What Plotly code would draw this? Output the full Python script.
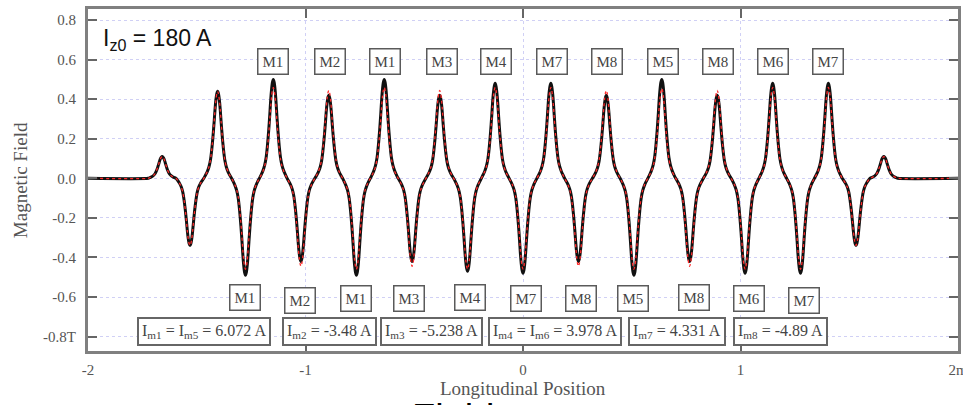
import plotly.graph_objects as go

# ---------------- data ----------------
# longitudinal positions of the field extrema (poles)
POLE_X = [-1.659, -1.531, -1.404, -1.276, -1.148, -1.021, -0.893, -0.766, -0.638,
          -0.510, -0.383, -0.255, -0.128, 0.000, 0.128, 0.255, 0.383, 0.510,
          0.638, 0.766, 0.893, 1.021, 1.148, 1.276, 1.404, 1.531, 1.659]
# peak field of the black (simulated) curve
FIELD_BLACK = [0.11, -0.34, 0.44, -0.49, 0.50, -0.42, 0.42, -0.49, 0.50,
               -0.42, 0.42, -0.47, 0.48, -0.48, 0.48, -0.42, 0.42, -0.49,
               0.50, -0.42, 0.42, -0.48, 0.48, -0.48, 0.48, -0.34, 0.11]
# peak field of the red (corrected) curve
FIELD_RED = [0.11, -0.34, 0.44, -0.46, 0.46, -0.445, 0.445, -0.46, 0.46,
             -0.445, 0.445, -0.46, 0.46, -0.46, 0.46, -0.445, 0.445, -0.46,
             0.455, -0.445, 0.445, -0.46, 0.46, -0.46, 0.46, -0.34, 0.11]
# shape of one pole: distance from the peak and fraction of the peak
PROFILE_DX = [0.004, 0.008, 0.012, 0.016, 0.021, 0.027, 0.033, 0.040, 0.048, 0.056]
PROFILE_REL = [0.97, 0.90, 0.79, 0.65, 0.49, 0.33, 0.21, 0.13, 0.075, 0.035]
HALF_PERIOD = 0.1276
X_START, X_END = -2.0, 2.0

# magnet labels above / below the peaks
TOP_LABELS = ["M1", "M2", "M1", "M3", "M4", "M7", "M8", "M5", "M8", "M6", "M7"]
TOP_LABEL_X = [-1.149, -0.887, -0.634, -0.372, -0.124, 0.133, 0.386, 0.644, 0.897, 1.149, 1.402]
TOP_LABEL_Y = [0.59] * 11
BOT_LABELS = ["M1", "M2", "M1", "M3", "M4", "M7", "M8", "M5", "M8", "M6", "M7"]
BOT_LABEL_X = [-1.278, -1.025, -0.768, -0.524, -0.244, 0.014, 0.267, 0.506, 0.786, 1.039, 1.292]
BOT_LABEL_Y = [-0.605, -0.616, -0.610, -0.610, -0.600, -0.610, -0.610, -0.610, -0.600, -0.610, -0.616]

# coil currents
CURRENT_TEXT = ["I<sub>m1</sub> = I<sub>m5</sub> = 6.072 A",
                "I<sub>m2</sub> = -3.48 A",
                "I<sub>m3</sub> = -5.238 A",
                "I<sub>m4</sub> = I<sub>m6</sub> = 3.978 A",
                "I<sub>m7</sub> = 4.331 A",
                "I<sub>m8</sub> = -4.89 A"]
CURRENT_X = [-1.775, -1.108, -0.657, -0.161, 0.483, 0.966]
CURRENT_Y = -0.775

X_TICKS = [-2, -1, 0, 1, 2]
X_TICKTEXT = ["-2", "-1", "0", "1", "2m"]
Y_TICKS = [-0.8, -0.6, -0.4, -0.2, 0.0, 0.2, 0.4, 0.6, 0.8]
Y_TICKTEXT = ["-0.8T", "-0.6", "-0.4", "-0.2", "0.0", "0.2", "0.4", "0.6", "0.8"]


def build_curve(amps):
    xs = [X_START, POLE_X[0] - HALF_PERIOD / 2]
    ys = [0.0, 0.0]
    n = len(POLE_X)
    for i, (p, a) in enumerate(zip(POLE_X, amps)):
        for dx, r in zip(reversed(PROFILE_DX), reversed(PROFILE_REL)):
            xs.append(p - dx)
            ys.append(a * r)
        xs.append(p)
        ys.append(a)
        for dx, r in zip(PROFILE_DX, PROFILE_REL):
            xs.append(p + dx)
            ys.append(a * r)
        if i < n - 1:
            xs.append((p + POLE_X[i + 1]) / 2)
            ys.append(0.0)
    xs += [POLE_X[-1] + HALF_PERIOD / 2, X_END]
    ys += [0.0, 0.0]
    return xs, ys


bx, by = build_curve(FIELD_BLACK)
rx, ry = build_curve(FIELD_RED)

fig = go.Figure()
fig.add_trace(go.Scatter(x=bx, y=by, mode="lines",
                         line=dict(color="#111111", width=3, shape="spline", smoothing=0.6),
                         hoverinfo="skip", showlegend=False))
fig.add_trace(go.Scatter(x=rx, y=ry, mode="lines",
                         line=dict(color="#ff2a2a", width=1.3, dash="dot", shape="spline", smoothing=0.6),
                         hoverinfo="skip", showlegend=False))

serif = "Liberation Serif"
annotations = []
box_font = dict(family=serif, size=15, color="#444444")
for t, x, y in zip(TOP_LABELS, TOP_LABEL_X, TOP_LABEL_Y):
    annotations.append(dict(x=x, y=y, xref="x", yref="y", text=t, showarrow=False,
                            xanchor="center", yanchor="middle",
                            font=box_font, bgcolor="white", bordercolor="#5a5a5a",
                            borderwidth=1.5, borderpad=4))
for t, x, y in zip(BOT_LABELS, BOT_LABEL_X, BOT_LABEL_Y):
    annotations.append(dict(x=x, y=y, xref="x", yref="y", text=t, showarrow=False,
                            xanchor="center", yanchor="middle",
                            font=box_font, bgcolor="white", bordercolor="#5a5a5a",
                            borderwidth=1.5, borderpad=4))
for t, x in zip(CURRENT_TEXT, CURRENT_X):
    annotations.append(dict(x=x, y=CURRENT_Y, xref="x", yref="y", text=t, showarrow=False,
                            xanchor="left", yanchor="middle",
                            font=dict(family=serif, size=16, color="#444444"),
                            bgcolor="white", bordercolor="#666666", borderwidth=2, borderpad=3))

annotations.append(dict(x=0.015, y=0.91, xref="paper", yref="paper", xanchor="left",
                        yanchor="middle", showarrow=False,
                        text="I<sub>z0</sub> = 180 A",
                        font=dict(family="Liberation Sans", size=23, color="#111111")))
annotations.append(dict(x=-0.078, y=0.5, xref="paper", yref="paper", showarrow=False,
                        xanchor="center", yanchor="middle",
                        textangle=-90, text="Magnetic Field",
                        font=dict(family=serif, size=19, color="#555555")))
annotations.append(dict(x=0.5, y=-0.111, xref="paper", yref="paper", showarrow=False,
                        xanchor="center", yanchor="middle",
                        text="Longitudinal Position",
                        font=dict(family=serif, size=19, color="#555555")))
annotations.append(dict(x=0.370, y=-0.128, xref="paper", yref="paper", showarrow=False,
                        xanchor="left", yanchor="top", text="Field",
                        font=dict(family="Liberation Sans", size=38, color="#000000")))

axis_common = dict(showline=True, linecolor="#808080", linewidth=3, mirror="ticks",
                   ticks="inside", ticklen=9, tickwidth=2, tickcolor="#666666",
                   showgrid=True, gridcolor="#d0d0f5", griddash="dot", gridwidth=1,
                   zeroline=False, ticklabeloverflow="allow", automargin=False,
                   tickfont=dict(family=serif, size=15, color="#555555"))

fig.update_layout(
    width=963, height=405,
    margin=dict(l=88, r=5, t=9, b=54, autoexpand=False),
    paper_bgcolor="white", plot_bgcolor="white",
    xaxis=dict(range=[X_START, X_END], tickvals=X_TICKS, ticktext=X_TICKTEXT,
               ticklabelstandoff=3, **axis_common),
    yaxis=dict(range=[-0.873, 0.856], tickvals=Y_TICKS, ticktext=Y_TICKTEXT,
               ticklabelstandoff=6, **axis_common),
    annotations=annotations,
    showlegend=False,
)

fig.write_html("out.html")
